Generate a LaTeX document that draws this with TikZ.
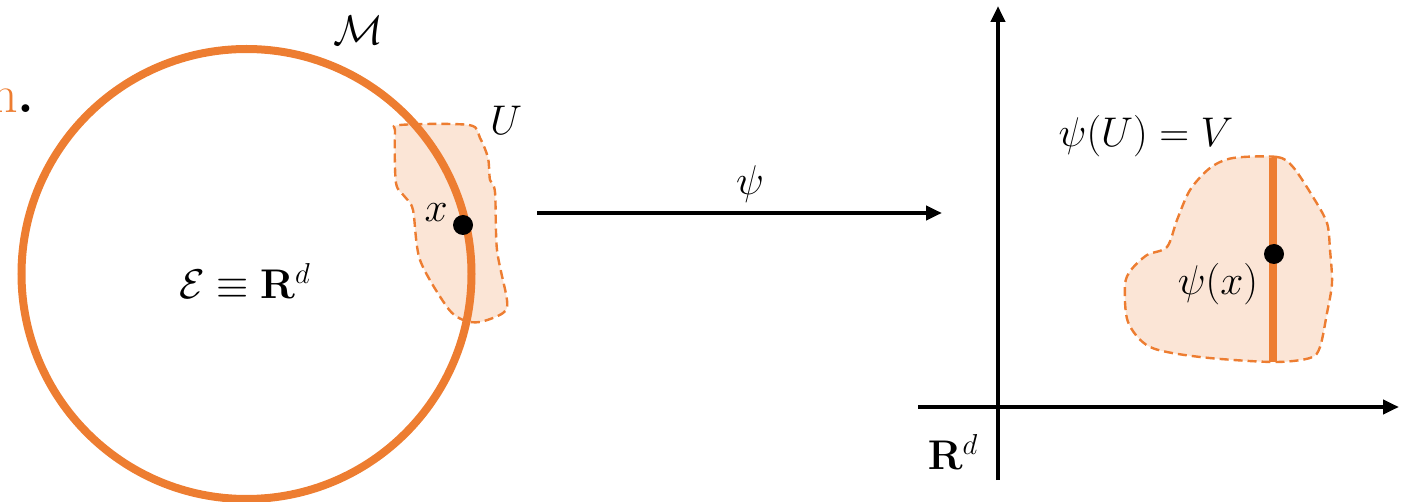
\documentclass[tikz,border=0pt]{standalone}
\usepackage{amsmath}
\usetikzlibrary{arrows.meta}
\definecolor{orng}{HTML}{ED7D31}
\definecolor{lorng}{HTML}{FBE5D6}
\begin{document}
\begin{tikzpicture}[x=0.5pt,y=-0.5pt,
  lbl/.style={font=\fontsize{22}{26}\selectfont, inner sep=0pt},
  blob/.style={draw=orng, fill=lorng, dash pattern=on 4.5pt off 2.5pt, line width=1.2pt},
  manifold/.style={draw=orng, line width=4pt},
  ax/.style={line width=2pt, -{Triangle[length=8pt,width=7pt]}},
  dotnode/.style={circle, fill=black, inner sep=0pt, minimum size=10pt}]
\clip (0,0) rectangle (1414,502);
% cut-off text at left edge
\node[anchor=base east, inner sep=0pt, font=\fontsize{27}{30}\selectfont] (cut) at (35,113) {\textcolor{orng}{n}\textbf{.}};
% neighbourhood U
\path[blob] plot[smooth cycle, tension=0.5] coordinates {(400,125) (469,125) (480,138) (488,158) (490,180) (495,192) (497,250) (507,300) (503,313) (480,322) (463,320) (447,307) (420,260) (413,210) (405,197) (396,183) (395,133)};
% manifold circle
\draw[manifold] (246.5,274) circle (225);
\node[dotnode] (x) at (463,225) {};
\node[lbl, anchor=east] (xl) at (448,213) {$x$};
\node[lbl] (U) at (506,120) {$U$};
\node[lbl] (M) at (358,30) {$\mathcal{M}$};
\node[lbl] (E) at (245,281) {$\mathcal{E}\equiv\mathbf{R}^d$};
% map psi
\coordinate (a0) at (537,213);
\coordinate (a1) at (942,213);
\draw[ax] (a0) -- (a1);
\node[lbl] (psi) at (750,184) {$\psi$};
% axes
\coordinate (o) at (998,407);
\coordinate (yb) at (998,480);
\coordinate (yt) at (998,6);
\coordinate (xl0) at (918,407);
\coordinate (xr) at (1399,407);
\draw[ax] (yb) -- (yt);
\draw[ax] (xl0) -- (xr);
\node[lbl] (Rd) at (953,452) {$\mathbf{R}^d$};
\node[lbl] (psiU) at (1146,136) {$\psi(U)=V$};
% image V
\path[blob] plot[smooth cycle, tension=0.5] coordinates {(1233,158) (1277,157) (1293,167) (1313,197) (1327,223) (1330,250) (1332,283) (1327,313) (1320,347) (1310,358) (1273,362) (1200,357) (1150,347) (1128,322) (1125,285) (1131,270) (1147,255) (1167,247) (1177,220) (1190,190) (1210,168)};
\coordinate (vt) at (1273,158);
\coordinate (vb) at (1273,362);
\draw[orng, line width=4pt] (vt) -- (vb);
\node[dotnode] (px) at (1274,254) {};
\node[lbl] (pxl) at (1218,284) {$\psi(x)$};
\end{tikzpicture}
\end{document}
